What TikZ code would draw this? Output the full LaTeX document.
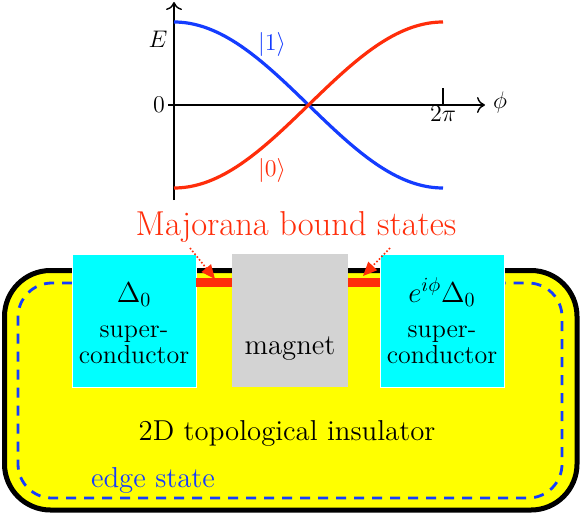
\documentclass[tikz,border=0pt]{standalone}
\usepackage{amsmath,amssymb}
\usepackage{tikz}
\usetikzlibrary{arrows.meta,positioning,calc}
\definecolor{majred}{RGB}{255,45,10}
\definecolor{edgeblue}{RGB}{20,60,255}
\definecolor{scfill}{RGB}{0,255,255}
\definecolor{tifill}{RGB}{255,255,0}
\definecolor{magnetgray}{RGB}{211,211,211}

\begin{document}
\begin{tikzpicture}[
        x=0.5pt, y=-0.5pt,
        every node/.style={inner sep=0pt, outer sep=0pt},
        axis/.style={line width=0.7pt, -{To[length=4pt,width=8pt]}},
        level/.style={line width=1.6pt},
        plotlabel/.style={font=\large},
        scbox/.style={fill=scfill, draw=white, line width=0.4pt, minimum width=62pt, minimum height=66.5pt},
        magnetbox/.style={fill=magnetgray, minimum width=58pt, minimum height=66.5pt},
        sctext/.style={font=\fontsize{13}{13}\selectfont, anchor=base},
        mbsbar/.style={majred, line width=4.3pt},
        mbsarrow/.style={majred, line width=0.8pt, densely dotted, -{Triangle[length=7pt,width=6pt]}}
    ]
        \useasboundingbox (0,0) rectangle (581,513);

        % energy levels vs phase
        \coordinate (origin) at (174,105);
        \coordinate (ytop) at (174,2);
        \coordinate (ybot) at (174,200);
        \coordinate (xend) at (485,105);
        \coordinate (twopi) at (443,105);
        \draw[axis] (ybot) -- (ytop);
        \draw[axis] (origin) -- (xend);
        \draw[line width=0.7pt] (origin) -- ++(-6,0);
        \draw[line width=0.7pt] (twopi) -- ++(0,-17);
        \node[plotlabel] (elabel) at (158,39) {$E$};
        \node[plotlabel] (zlabel) at (159,105) {$0$};
        \node[plotlabel] (tplabel) at (443,114) {$2\pi$};
        \node[plotlabel] (plabel) at (500,103) {$\phi$};
        \draw[level, edgeblue] plot[domain=0:180, samples=80] ({174+(\x/180)*269}, {105-83*cos(\x)});
        \draw[level, majred] plot[domain=0:180, samples=80] ({174+(\x/180)*269}, {105+83*cos(\x)});
        \node[plotlabel, text=edgeblue] (one) at (272,45) {$|1\rangle$};
        \node[plotlabel, text=majred] (zero) at (272,170) {$|0\rangle$};

        % the insulator with its edge state
        \draw[line width=2.5pt, fill=tifill, rounded corners=23pt] (4.5,270.5) rectangle (577,510);
        \draw[edgeblue, line width=1.4pt, dash pattern=on 5pt off 4pt, rounded corners=17pt]
            (72,283) -- (18,283) -- (18,498) -- (562,498) -- (562,283) -- (503,283);
        \node[font=\Large, text=edgeblue, anchor=base] (edge) at (153,487) {edge state};
        \node[font=\Large, anchor=base] (ti) at (287,440) {2D topological insulator};

        % superconductors and magnet
        \node[scbox] (scL) at (134,320.5) {};
        \node[scbox] (scR) at (442,320.5) {};
        \node[magnetbox] (magnet) at (290,320.5) {};
        \node[font=\Large, anchor=base] (maglabel) at (290,354) {magnet};
        \node[font=\Large, anchor=base] (gapL) at (134,302) {$\Delta_0$};
        \node[font=\Large, anchor=base] (gapR) at (442,302) {$e^{i\phi}\Delta_0$};
        \node[sctext] (supL) at (134,337) {super-};
        \node[sctext] (conL) at (134,363) {conductor};
        \node[sctext] (supR) at (442,337) {super-};
        \node[sctext] (conR) at (442,363) {conductor};

        % Majorana bound states
        \draw[mbsbar] (scL.east |- 0,282.5) -- (magnet.west |- 0,282.5);
        \draw[mbsbar] (magnet.east |- 0,282.5) -- (scR.west |- 0,282.5);
        \node[font=\LARGE, text=majred, anchor=base] (mbs) at (296,235) {Majorana bound states};
        \coordinate (tipL) at (215,279);
        \coordinate (tipR) at (363,276);
        \draw[mbsarrow] ([xshift=-53pt,yshift=-3pt]mbs.south) -- (tipL);
        \draw[mbsarrow] ([xshift=47pt,yshift=-3pt]mbs.south) -- (tipR);
    \end{tikzpicture}
\end{document}
